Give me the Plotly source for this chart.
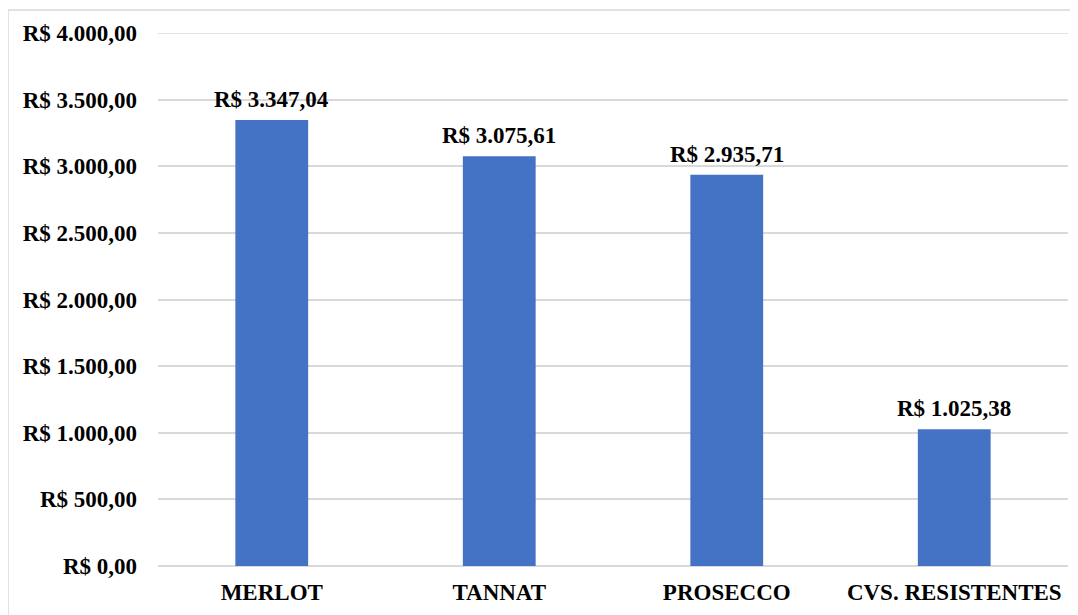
import plotly.graph_objects as go

categories = ["MERLOT", "TANNAT", "PROSECCO", "CVS. RESISTENTES"]
values = [3347.04, 3075.61, 2935.71, 1025.38]
tick_values = [0, 500, 1000, 1500, 2000, 2500, 3000, 3500, 4000]


def brl(v):
    s = f"{v:,.2f}"
    s = s.replace(",", "X").replace(".", ",").replace("X", ".")
    return "R$ " + s


FONT = "Liberation Serif, Times New Roman, serif"
FS = 23
GRID = "#d9d9d9"

fig = go.Figure(
    go.Bar(
        x=categories,
        y=values,
        marker=dict(color="#4472C4", line=dict(width=0)),
        width=0.32,
        hoverinfo="x+y",
    )
)

for c, v in zip(categories, values):
    fig.add_annotation(
        x=c, y=v, xref="x", yref="y",
        text="<b>" + brl(v) + "</b>",
        showarrow=False,
        yanchor="bottom",
        yshift=6,
        font=dict(family=FONT, size=FS, color="#000000"),
    )

W, H = 1078, 615
# page body has an 8px margin; compensate so the plot sits where the reference does
ml, mr, mt, mb = 150, 18, 25, 57
pw, ph = W - ml - mr, H - mt - mb

fig.add_shape(
    type="rect",
    xref="paper", yref="paper",
    x0=(0 - ml) / pw, x1=(W + 20 - ml) / pw,
    y0=(H - mb - (H + 20)) / ph, y1=(H - mb - 2) / ph,
    line=dict(color=GRID, width=1.5),
    fillcolor="rgba(0,0,0,0)",
    layer="below",
)

# top gridline (plotly hides the one at the very edge of the range)
fig.add_shape(
    type="line",
    xref="paper", yref="y",
    x0=0, x1=1, y0=tick_values[-1], y1=tick_values[-1],
    line=dict(color=GRID, width=1.5),
    layer="below",
)

fig.update_layout(
    width=W, height=H,
    margin=dict(l=ml, r=mr, t=mt, b=mb),
    paper_bgcolor="white",
    plot_bgcolor="white",
    showlegend=False,
    font=dict(family=FONT, color="#000000"),
    xaxis=dict(
        showgrid=False,
        showline=False,
        ticks="",
        ticklabelstandoff=10,
        tickfont=dict(family=FONT, size=FS, color="#000000", weight="bold"),
    ),
    yaxis=dict(
        range=[0, 4000],
        tickvals=tick_values,
        ticktext=[brl(v) for v in tick_values],
        showgrid=True,
        gridcolor=GRID,
        gridwidth=1.5,
        zeroline=True,
        zerolinecolor=GRID,
        zerolinewidth=1.5,
        showline=False,
        ticks="",
        ticklabelstandoff=20,
        tickfont=dict(family=FONT, size=FS, color="#000000", weight="bold"),
    ),
)

fig.write_html("out.html")
